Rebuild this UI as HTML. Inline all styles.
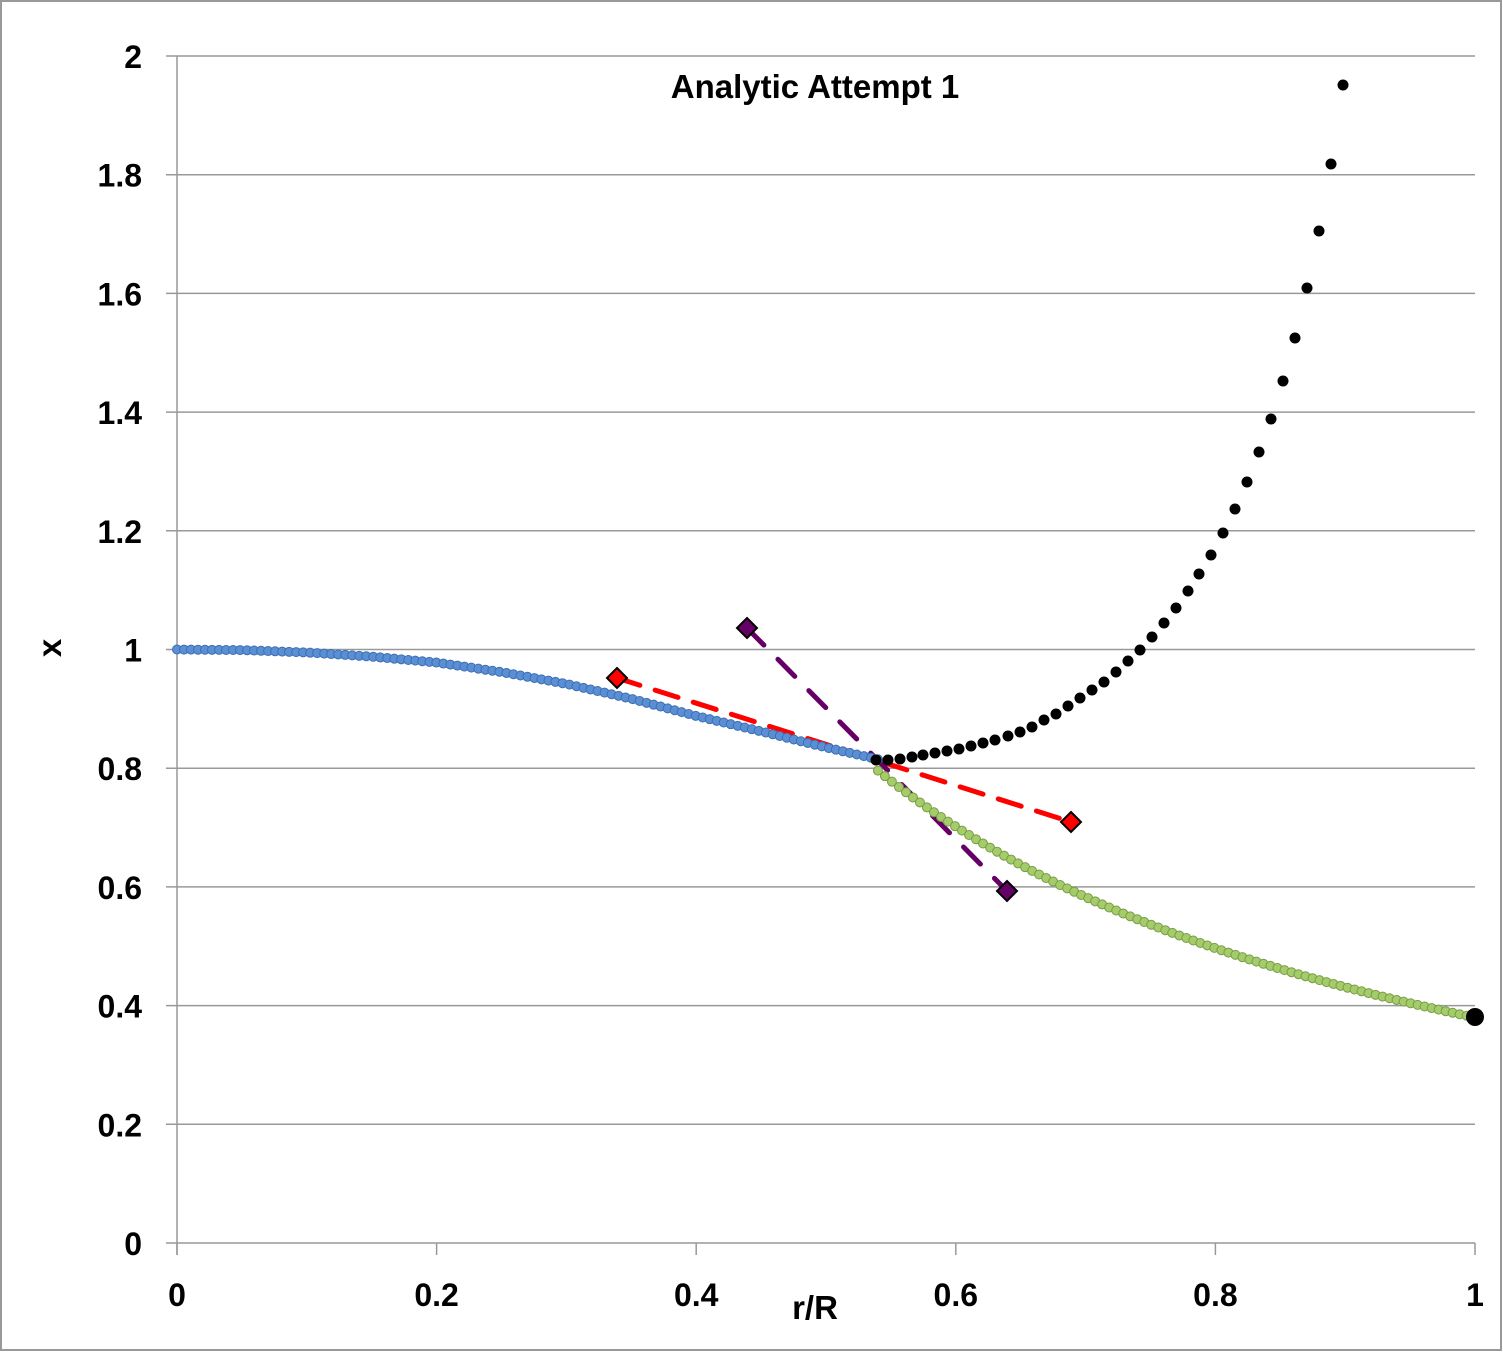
<!DOCTYPE html>
<html><head><meta charset="utf-8"><style>
body{margin:0;background:#fff;}
svg{display:block;font-family:"Liberation Sans",sans-serif;font-weight:bold;}
</style></head><body>
<svg id="s" width="1503" height="1352" xmlns="http://www.w3.org/2000/svg">
<rect x="1" y="1" width="1500" height="1349" fill="#fff" stroke="#999" stroke-width="2"/>
<g id="grid" stroke="#999" stroke-width="1.5"></g>
<g id="lbl" font-size="32" fill="#000"></g>
<text x="815" y="98" font-size="33" text-anchor="middle">Analytic Attempt 1</text>
<text x="815" y="1319" font-size="33" text-anchor="middle">r/R</text>
<text transform="translate(61,648) rotate(-90)" font-size="33" text-anchor="middle">x</text>
<g id="ser"></g>
</svg>
<script>
const NS="http://www.w3.org/2000/svg";
const X=r=>177+r*1298, Y=v=>1243-v*593.5;
const g=document.getElementById('grid'),l=document.getElementById('lbl'),s=document.getElementById('ser');
function el(p,tag,a,t){const e=document.createElementNS(NS,tag);for(const k in a)e.setAttribute(k,a[k]);if(t!==undefined)e.textContent=t;p.appendChild(e);return e;}
for(let i=0;i<=10;i++){const y=Y(i*0.2);el(g,'line',{x1:166,x2:1475,y1:y,y2:y});
 el(l,'text',{x:142,y:y+12,'text-anchor':'end'},i==0?'0':i==5?'1':i==10?'2':(i*0.2).toFixed(1));}
el(g,'line',{x1:177,x2:177,y1:56,y2:1255});
for(let i=0;i<=5;i++){const x=X(i*0.2);el(g,'line',{x1:x,x2:x,y1:1243,y2:1255});
 el(l,'text',{x:x,y:1306,'text-anchor':'middle'},i==0?'0':i==5?'1':(i*0.2).toFixed(1));}
function interp(pts,r){for(let i=0;i<pts.length-1;i++){if(r<=pts[i+1][0]){const t=(r-pts[i][0])/(pts[i+1][0]-pts[i][0]);return pts[i][1]+t*(pts[i+1][1]-pts[i][1]);}}return pts[pts.length-1][1];}
el(s,'line',{x1:617,y1:678,x2:1071,y2:822,stroke:'#f00','stroke-width':5,'stroke-dasharray':'24,16','stroke-linecap':'round'});
el(s,'line',{x1:747,y1:628,x2:1007,y2:891,stroke:'#660066','stroke-width':5,'stroke-dasharray':'24,20','stroke-linecap':'round'});
const bp=[[0,1],[0.05,0.999],[0.1,0.995],[0.15,0.988],[0.2,0.978],[0.25,0.962],[0.3,0.942],[0.35,0.917],[0.4,0.888],[0.45,0.862],[0.5,0.835],[0.54,0.815]];
for(let r=0;r<=0.541;r+=0.0054){el(s,'circle',{cx:X(r),cy:Y(interp(bp,r)),r:4.5,fill:'#5a8fd6',stroke:'#3d6fb0','stroke-width':1});}
for(let r=0.54;r<=1.0001;r+=0.0054){el(s,'circle',{cx:X(r),cy:Y(0.38*Math.pow(r,-1.2)),r:4.5,fill:'#a4cc6a',stroke:'#7a9c45','stroke-width':1});}
const bk=[[876,760],[888,760],[900,759],[912,757],[923,755],[935,753],[947,751],[959,749],[971,746],[983,743],[995,740],[1008,736],[1020,732],[1032,727],[1044,720],[1056,714],[1068,706],[1080,698],[1092,690],[1104,682],[1116,672],[1128,661],[1140,650],[1152,637],[1164,623],[1176,608],[1188,591],[1199,574],[1211,555],[1223,533],[1235,509],[1247,482],[1259,452],[1271,419],[1283,381],[1295,338],[1307,288],[1319,231],[1331,164],[1343,85]];
bk.forEach(p=>el(s,'circle',{cx:p[0],cy:p[1],r:5.5,fill:'#000'}));
el(s,'circle',{cx:1475,cy:1017,r:9,fill:'#000'});
function dia(x,y,c){el(s,'path',{d:`M${x} ${y-10}L${x+10} ${y}L${x} ${y+10}L${x-10} ${y}Z`,fill:c,stroke:'#000','stroke-width':2});}
dia(617,678,'#f00');dia(1071,822,'#f00');dia(747,628,'#660066');dia(1007,891,'#660066');
</script>
</body></html>
